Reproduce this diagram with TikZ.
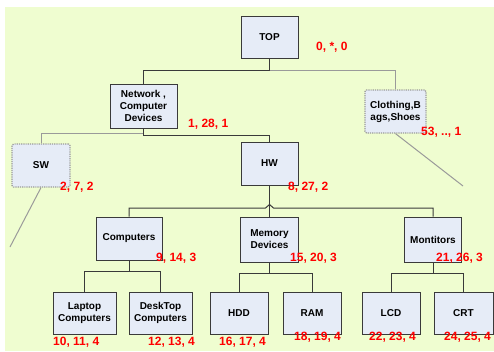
\documentclass[tikz,border=0pt]{standalone}
\usepackage{fontspec}
\setmainfont{Liberation Sans}
\usetikzlibrary{calc}
\definecolor{bgfill}{HTML}{EFFDD0}
\definecolor{boxfill}{HTML}{E6ECF7}
\definecolor{darkline}{HTML}{3A3A3A}
\definecolor{greyline}{HTML}{9A9A9A}
\tikzset{
  catbox/.style={draw=darkline, line width=0.9pt, fill=boxfill, align=center,
    font=\bfseries\fontsize{10}{12}\selectfont, inner sep=1pt},
  dimbox/.style={catbox, draw=greyline, line width=1.2pt, densely dotted, rounded corners=1.5pt},
  tag/.style={text=red, font=\bfseries\fontsize{12}{14}\selectfont, inner sep=0pt, anchor=west},
  link/.style={draw=darkline, line width=1pt},
  dimlink/.style={draw=greyline, line width=1pt},
}
\begin{document}
\begin{tikzpicture}[x=1pt,y=-1pt]
\useasboundingbox (0,0) rectangle (494,351);
\fill[bgfill] (5,7) rectangle (494,351);

% category boxes
\node[catbox, minimum width=57pt, minimum height=42pt] (top) at (269.5,37) {TOP};
\node[catbox, minimum width=67pt, minimum height=44pt] (net) at (143.5,106) {Network ,\\Computer\\Devices};
\node[dimbox, minimum width=61pt, minimum height=43pt] (cloth) at (395.5,111.5) {Clothing,B\\ags,Shoes};
\node[dimbox, minimum width=58pt, minimum height=43pt] (sw) at (41,165.5) {SW};
\node[catbox, minimum width=57pt, minimum height=43pt] (hw) at (269.5,163.5) {HW};
\node[catbox, minimum width=66pt, minimum height=43pt] (comp) at (129,238.5) {Computers};
\node[catbox, minimum width=58pt, minimum height=45pt] (mem) at (269.5,239.5) {Memory\\Devices};
\node[catbox, minimum width=57pt, minimum height=45pt] (mon) at (433,239.5) {Montitors};
\node[catbox, minimum width=63pt, minimum height=42pt] (lap) at (84.5,313) {Laptop\\Computers};
\node[catbox, minimum width=63pt, minimum height=42pt] (desk) at (160.5,313) {DeskTop\\Computers};
\node[catbox, minimum width=58pt, minimum height=42pt] (hdd) at (239,313) {HDD};
\node[catbox, minimum width=58pt, minimum height=42pt] (ram) at (312,313) {RAM};
\node[catbox, minimum width=58pt, minimum height=42pt] (lcd) at (391,313) {LCD};
\node[catbox, minimum width=59pt, minimum height=42pt] (crt) at (463.5,313) {CRT};

% red triples (left, right, level)
\node[tag] (ttop) at (316,47) {0, *, 0};
\node[tag] (tnet) at (188,124) {1, 28, 1};
\node[tag] (tcloth) at (421,132) {53, .., 1};
\node[tag] (tsw) at (60,187) {2, 7, 2};
\node[tag] (thw) at (288,187) {8, 27, 2};
\node[tag] (tcomp) at (156,258) {9, 14, 3};
\node[tag] (tmem) at (290,258) {15, 20, 3};
\node[tag] (tmon) at (436,258) {21, 26, 3};
\node[tag] (tlap) at (53,342) {10, 11, 4};
\node[tag] (tdesk) at (148,342) {12, 13, 4};
\node[tag] (thdd) at (219,342) {16, 17, 4};
\node[tag] (tram) at (294,337) {18, 19, 4};
\node[tag] (tlcd) at (369,337) {22, 23, 4};
\node[tag] (tcrt) at (444,337) {24, 25, 4};

% junction points
\coordinate (jtop) at ($(top.south)+(0,12)$);
\coordinate (jnet) at ($(net.south)+(0,7)$);
\coordinate (jnetg) at ($(net.south)+(0,5)$);
\coordinate (swend) at (10,247);
\coordinate (clend) at (463,186);
\coordinate (jcomp) at ($(comp.south)+(0,11)$);
\coordinate (jmem) at ($(mem.south)+(0,11)$);
\coordinate (jmon) at ($(mon.south)+(0,11)$);

% tree links
\draw[link] (top.south) -- (jtop) -| (net.north);
\draw[dimlink] (jtop) -| (cloth.north);
\draw[dimlink] (jnetg) -| (sw.north);
\draw[link] (net.south) -- (jnet) -| (hw.north);
\draw[dimlink] (sw.south) -- (swend);
\draw[dimlink] (cloth.south) -- (clend);

% HW bus with a line hop where the trunk crosses it
\draw[link] (hw.south) -- (mem.north);
\draw[link] (comp.north) -- (comp.north |- 0,208) -- (265.5,208) -- (269.5,204.5) -- (273.5,208) -| (mon.north);

\draw[link] (comp.south) -- (jcomp);
\draw[link] (lap.north) |- (jcomp) -| (desk.north);
\draw[link] (mem.south) -- (jmem);
\draw[link] (hdd.north) |- (jmem) -| (ram.north);
\draw[link] (mon.south) -- (jmon);
\draw[link] (lcd.north) |- (jmon) -| (crt.north);
\end{tikzpicture}
\end{document}
